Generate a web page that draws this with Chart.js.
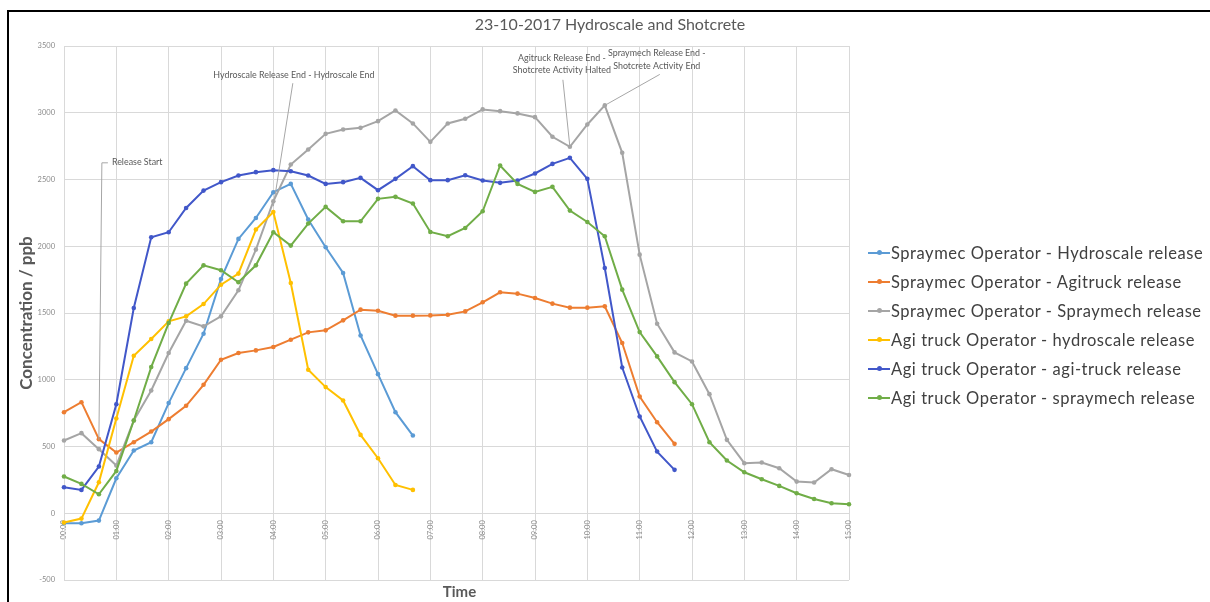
<!DOCTYPE html>
<html>
<head>
<meta charset="utf-8">
<script src="https://cdn.jsdelivr.net/npm/chart.js@4.4.0/dist/chart.umd.min.js"></script>
<style>
    html, body { margin: 0; padding: 0; background: #fff; overflow: hidden; }
    #wrap { position: relative; width: 1210px; height: 602px; }
    #frame { position: absolute; left: 7px; top: 10px; width: 1300px; height: 700px; border: 2px solid #000; pointer-events: none; }
    #title { position: absolute; top: 14px; left: 0; width: 1220px; text-align: center; font: 16px Lato, sans-serif; color: #595959; }
    #legend { position: absolute; left: 868px; top: 238px; font: 16.5px Lato, sans-serif; letter-spacing: 0.55px; color: #404040; }
    .item { height: 29px; display: flex; align-items: center; white-space: nowrap; }
    .swatch { position: relative; width: 22px; height: 2px; margin-right: 1px; }
    .swatch i { position: absolute; left: 9px; top: -1.5px; width: 5px; height: 5px; border-radius: 50%; }
</style>
</head>
<body>
<div id="wrap">
    <canvas id="chart" width="1210" height="602"></canvas>
    <div id="title">23-10-2017 Hydroscale and Shotcrete</div>
    <div id="legend"></div>
    <div id="frame"></div>
</div>
<script>
const times = [
    '00:00', '00:20', '00:40', '01:00', '01:20', '01:40', '02:00', '02:20', '02:40',
    '03:00', '03:20', '03:40', '04:00', '04:20', '04:40', '05:00', '05:20', '05:40',
    '06:00', '06:20', '06:40', '07:00', '07:20', '07:40', '08:00', '08:20', '08:40',
    '09:00', '09:20', '09:40', '10:00', '10:20', '10:40', '11:00', '11:20', '11:40',
    '12:00', '12:20', '12:40', '13:00', '13:20', '13:40', '14:00', '14:20', '14:40',
    '15:00'
];

const spraymecHydroscale = [-75, -75, -55, 262, 470, 532, 825, 1087, 1345, 1755, 2055, 2212, 2405, 2467, 2200, 1992, 1800, 1332, 1042, 757, 582];
const spraymecAgitruck = [757, 832, 555, 455, 532, 612, 705, 805, 962, 1150, 1200, 1220, 1245, 1300, 1355, 1370, 1445, 1525, 1517, 1480, 1480, 1482, 1487, 1512, 1580, 1655, 1645, 1612, 1570, 1540, 1540, 1550, 1275, 875, 682, 520];
const spraymecSpraymech = [545, 600, 480, 357, 695, 920, 1200, 1442, 1400, 1475, 1670, 1975, 2337, 2612, 2725, 2842, 2875, 2887, 2937, 3017, 2920, 2782, 2920, 2955, 3025, 3012, 2995, 2967, 2820, 2745, 2912, 3055, 2700, 1937, 1420, 1205, 1137, 892, 550, 375, 380, 337, 237, 230, 330, 287];
const agiHydroscale = [-70, -40, 232, 710, 1180, 1305, 1437, 1475, 1567, 1712, 1795, 2125, 2257, 1725, 1075, 945, 845, 587, 412, 212, 175];
const agiAgitruck = [195, 175, 350, 817, 1537, 2067, 2105, 2287, 2417, 2480, 2530, 2555, 2570, 2562, 2530, 2467, 2480, 2512, 2420, 2505, 2600, 2495, 2495, 2532, 2492, 2475, 2492, 2545, 2617, 2662, 2505, 1837, 1092, 725, 462, 325];
const agiSpraymech = [275, 220, 142, 317, 695, 1095, 1425, 1720, 1857, 1820, 1730, 1857, 2105, 2005, 2170, 2295, 2187, 2187, 2355, 2370, 2320, 2107, 2075, 2137, 2262, 2605, 2467, 2407, 2445, 2267, 2182, 2075, 1675, 1357, 1175, 982, 817, 532, 395, 307, 255, 205, 150, 107, 75, 67];

const yTicks = [-500, 0, 500, 1000, 1500, 2000, 2500, 3000, 3500];

const seriesNames = [
    'Spraymec Operator - Hydroscale release',
    'Spraymec Operator - Agitruck release',
    'Spraymec Operator - Spraymech release',
    'Agi truck Operator - hydroscale release',
    'Agi truck Operator - agi-truck release',
    'Agi truck Operator - spraymech release'
];
const seriesData = [spraymecHydroscale, spraymecAgitruck, spraymecSpraymech, agiHydroscale, agiAgitruck, agiSpraymech];
const seriesColors = ['#5B9BD5', '#ED7D31', '#A5A5A5', '#FFC000', '#4157C9', '#70AD47'];

// callouts: anchored on a data point, offsets in pixels from it
const notes = [
    { index: 2, value: 550, path: [[3, -277], [9, -277]], text: [13, -278], align: 'left', lines: ['Release Start'] },
    { index: 12, value: 2300, path: [[19.5, -123]], text: [20.5, -131], align: 'center', lines: ['Hydroscale Release End - Hydroscale End'] },
    { index: 29, value: 2745, path: [[-7, -67]], text: [-8, -89], align: 'center', lines: ['Agitruck Release End -', 'Shotcrete Activity Halted'] },
    { index: 31, value: 3055, path: [[55, -31]], text: [52, -52], align: 'center', lines: ['Spraymech Release End -', 'Shotcrete Activity End'] }
];

const font = 'Lato, sans-serif';

const notesPlugin = {
    id: 'notes',
    afterDatasetsDraw(chart) {
        const {ctx, chartArea, scales: {x, y}} = chart;
        ctx.save();
        ctx.font = '8.9px ' + font;
        ctx.fillStyle = '#595959';
        ctx.textBaseline = 'middle';
        notes.forEach((n) => {
            const px = x.getPixelForValue(n.index);
            const py = y.getPixelForValue(n.value);
            ctx.strokeStyle = '#a6a6a6';
            ctx.lineWidth = 1;
            ctx.beginPath();
            ctx.moveTo(px, py);
            n.path.forEach((p) => ctx.lineTo(px + p[0], py + p[1]));
            ctx.stroke();
            ctx.textAlign = n.align;
            n.lines.forEach((line, i) => {
                ctx.fillText(line, px + n.text[0], py + n.text[1] + i * 12.5);
            });
        });

        ctx.font = 'bold 15px ' + font;
        ctx.fillStyle = '#595959';
        ctx.textAlign = 'center';
        ctx.fillText('Time', (chartArea.left + chartArea.right) / 2 + 3, chartArea.bottom + 12);
        ctx.restore();
    }
};

const chart = new Chart(document.getElementById('chart'), {
    type: 'line',
    data: {
        labels: times,
        datasets: seriesData.map((d, i) => ({
            label: seriesNames[i],
            data: d,
            borderColor: seriesColors[i],
            backgroundColor: seriesColors[i],
            borderWidth: 2,
            pointRadius: 2.3,
            pointBorderWidth: 0,
            tension: 0,
            order: seriesData.length - i
        }))
    },
    options: {
        responsive: false,
        animation: false,
        layout: {
            padding: { left: 0, top: 46, right: 361, bottom: 22 }
        },
        scales: {
            x: {
                type: 'category',
                position: { y: 0 },
                offset: false,
                grid: {
                    color: (c) => (c.index % 3 === 0 ? '#d9d9d9' : 'rgba(0,0,0,0)'),
                    drawTicks: false
                },
                border: { color: '#d9d9d9' },
                ticks: {
                    autoSkip: false,
                    minRotation: 90,
                    maxRotation: 90,
                    padding: 7,
                    color: '#8a8a8a',
                    font: { family: font, size: 7.5 },
                    callback: function (value, index) {
                        return index % 3 === 0 ? times[index] : '';
                    }
                }
            },
            y: {
                min: yTicks[0],
                max: yTicks[yTicks.length - 1],
                afterBuildTicks: (scale) => {
                    scale.ticks = yTicks.map((v) => ({ value: v }));
                },
                afterFit: (scale) => {
                    scale.width = 64;
                },
                grid: { color: '#d9d9d9', drawTicks: false },
                border: { color: '#d9d9d9' },
                ticks: {
                    padding: 9,
                    color: '#8a8a8a',
                    font: { family: font, size: 7.5 },
                    callback: (v) => String(v)
                },
                title: {
                    display: true,
                    text: 'Concentration / ppb',
                    color: '#595959',
                    font: { family: font, size: 17, weight: 'bold' },
                    padding: { top: 16, bottom: 0 }
                }
            }
        },
        plugins: {
            legend: { display: false },
            title: { display: false },
            tooltip: { enabled: false }
        }
    },
    plugins: [notesPlugin]
});

const legend = document.getElementById('legend');
legend.innerHTML = chart.data.datasets.map((ds) => `
    <div class="item">
        <span class="swatch" style="background:${ds.borderColor}"><i style="background:${ds.borderColor}"></i></span>
        <span>${ds.label}</span>
    </div>
`).join('');
</script>
</body>
</html>
